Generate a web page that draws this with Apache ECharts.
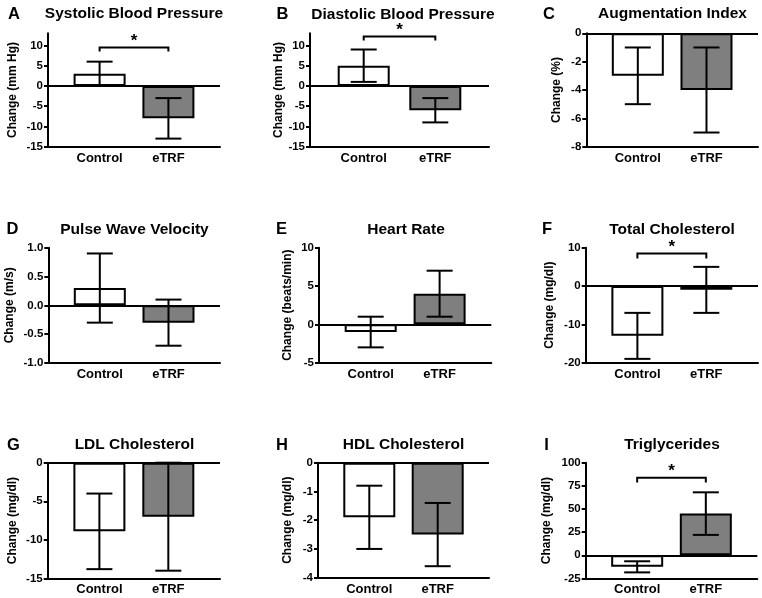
<!DOCTYPE html>
<html>
<head>
<meta charset="utf-8">
<script src="https://cdn.jsdelivr.net/npm/echarts@6/dist/echarts.min.js"></script>
<style>
  html, body { margin: 0; padding: 0; background: #fff; }
  #chart { width: 762px; height: 598px; }
</style>
</head>
<body>
<div id="chart"></div>
<script>
// 分组
const categories = ['Control', 'eTRF']
const panelTitles = ['Systolic Blood Pressure', 'Diastolic Blood Pressure', 'Augmentation Index',
  'Pulse Wave Velocity', 'Heart Rate', 'Total Cholesterol',
  'LDL Cholesterol', 'HDL Cholesterol', 'Triglycerides']
const panelLetters = ['A', 'B', 'C', 'D', 'E', 'F', 'G', 'H', 'I']
const yNames = ['Change (mm Hg)', 'Change (mm Hg)', 'Change (%)',
  'Change (m/s)', 'Change (beats/min)', 'Change (mg/dl)',
  'Change (mg/dl)', 'Change (mg/dl)', 'Change (mg/dl)']

// 均值 和 误差 (Control, eTRF)
const sbpMean = [3, -8], sbpErr = [3, 5]
const dbpMean = [5, -6], dbpErr = [4, 3]
const aixMean = [-3, -4], aixErr = [2, 3]
const pwvMean = [0.3, -0.3], pwvErr = [0.6, 0.4]
const hrMean = [-1, 4], hrErr = [2, 3]
const tcMean = [-13, -1], tcErr = [6, 6]
const ldlMean = [-8.9, -7], ldlErr = [4.9, 7]
const hdlMean = [-1.9, -2.5], hdlErr = [1.1, 1.1]
const tgMean = [-12.5, 45], tgErr = [6, 23]

// y轴刻度
const sbpTicks = [-15, -10, -5, 0, 5, 10]
const dbpTicks = [-15, -10, -5, 0, 5, 10]
const aixTicks = [-8, -6, -4, -2, 0]
const pwvTicks = [-1, -0.5, 0, 0.5, 1]
const hrTicks = [-5, 0, 5, 10]
const tcTicks = [-20, -10, 0, 10]
const ldlTicks = [-15, -10, -5, 0]
const hdlTicks = [-4, -3, -2, -1, 0]
const tgTicks = [-25, 0, 25, 50, 75, 100]

// 显著性括号 [横线高度, 两端下垂到]
const sbpSig = [9.5, 8.5]
const dbpSig = [12.2, 11.2]
const tcSig = [8.5, 7.2]
const tgSig = [83.7, 78.6]

const panels = [
  { mean: sbpMean, err: sbpErr, ticks: sbpTicks, max: 13, sig: sbpSig },
  { mean: dbpMean, err: dbpErr, ticks: dbpTicks, max: 13, sig: dbpSig },
  { mean: aixMean, err: aixErr, ticks: aixTicks },
  { mean: pwvMean, err: pwvErr, ticks: pwvTicks, fmt: v => v.toFixed(1) },
  { mean: hrMean, err: hrErr, ticks: hrTicks },
  { mean: tcMean, err: tcErr, ticks: tcTicks, sig: tcSig },
  { mean: ldlMean, err: ldlErr, ticks: ldlTicks },
  { mean: hdlMean, err: hdlErr, ticks: hdlTicks },
  { mean: tgMean, err: tgErr, ticks: tgTicks, sig: tgSig }
]

// 布局
const layout = [
  { left: 48, top: 33.3, width: 172, height: 113.4, gap: 29, tx: 134, ty: 14, lx: 14, ly: 14 },
  { left: 310, top: 33.3, width: 179, height: 113.4, gap: 22, tx: 403, ty: 15, lx: 282.5, ly: 14 },
  { left: 586.3, top: 33.3, width: 171.7, height: 113.4, gap: 24, tx: 672.5, ty: 14, lx: 549, ly: 14 },
  { left: 48.3, top: 247.7, width: 171.7, height: 115.3, gap: 33, tx: 134.5, ty: 229.3, lx: 12.5, ly: 229.3 },
  { left: 319, top: 247.7, width: 172.3, height: 115, gap: 25.5, tx: 406, ty: 229.3, lx: 281.5, ly: 229.3 },
  { left: 585.7, top: 247.7, width: 172.3, height: 115, gap: 30, tx: 672, ty: 229.3, lx: 547, ly: 229.3 },
  { left: 47.7, top: 462.7, width: 172.3, height: 115.7, gap: 29, tx: 134.5, ty: 445, lx: 13.3, ly: 445 },
  { left: 318, top: 462.7, width: 171, height: 115, gap: 24.5, tx: 403.5, ty: 445, lx: 282, ly: 445 },
  { left: 585.7, top: 462.7, width: 171.6, height: 115.7, gap: 33, tx: 672, ty: 445, lx: 546.5, ly: 445 }
]

const FONT = 'Liberation Sans, Arial, Helvetica, sans-serif'
const GREY = '#7f7f7f'
const LW = 2

const chart = echarts.init(document.getElementById('chart'), null, { renderer: 'canvas' })

const grid = [], xAxis = [], yAxis = [], series = [], graphic = []

panels.forEach((p, i) => {
  const l = layout[i]
  grid.push({ left: l.left, top: l.top, width: l.width, height: l.height, outerBoundsMode: 'none' })
  xAxis.push({
    type: 'value', gridIndex: i, min: 0.25, max: 2.75,
    axisLine: { show: true, onZero: false, lineStyle: { color: '#000', width: LW } },
    axisTick: { show: false },
    splitLine: { show: false },
    axisLabel: {
      customValues: [1, 2],
      formatter: v => categories[v - 1],
      color: '#000', fontFamily: FONT, fontWeight: 'bold', fontSize: 13, margin: 5
    }
  })
  yAxis.push({
    type: 'value', gridIndex: i,
    min: p.ticks[0], max: p.max !== undefined ? p.max : p.ticks[p.ticks.length - 1],
    name: yNames[i], nameLocation: 'middle', nameGap: l.gap,
    nameTextStyle: { color: '#000', fontFamily: FONT, fontWeight: 'bold', fontSize: 12 },
    axisLine: { show: true, lineStyle: { color: '#000', width: LW } },
    axisTick: { show: true, customValues: p.ticks, length: 4, lineStyle: { color: '#000', width: LW } },
    splitLine: { show: false },
    axisLabel: {
      customValues: p.ticks,
      formatter: p.fmt || (v => String(v)),
      color: '#000', fontFamily: FONT, fontWeight: 'bold', fontSize: 11.5, margin: 5
    }
  })
  // 柱子
  series.push({
    type: 'bar', xAxisIndex: i, yAxisIndex: i, barWidth: 52,
    data: p.mean.map((m, k) => ({
      value: [k + 1, m],
      itemStyle: { color: k === 0 ? '#fff' : GREY, borderColor: '#000', borderWidth: LW }
    })),
    markLine: {
      silent: true, symbol: 'none', label: { show: false },
      lineStyle: { color: '#000', width: LW, type: 'solid' },
      data: [{ yAxis: 0 }]
    },
    z: 2
  })
  // 误差线
  series.push({
    type: 'custom', xAxisIndex: i, yAxisIndex: i,
    data: p.mean.map((m, k) => [k + 1, m - p.err[k], m + p.err[k]]),
    renderItem: (params, api) => {
      const hi = api.coord([api.value(0), api.value(2)])
      const lo = api.coord([api.value(0), api.value(1)])
      const w = 13
      const st = { stroke: '#000', lineWidth: LW }
      return {
        type: 'group', children: [
          { type: 'line', shape: { x1: hi[0], y1: hi[1], x2: lo[0], y2: lo[1] }, style: st },
          { type: 'line', shape: { x1: hi[0] - w, y1: hi[1], x2: hi[0] + w, y2: hi[1] }, style: st },
          { type: 'line', shape: { x1: lo[0] - w, y1: lo[1], x2: lo[0] + w, y2: lo[1] }, style: st }
        ]
      }
    },
    z: 4
  })
  // 显著性标记
  if (p.sig) {
    series.push({
      type: 'custom', xAxisIndex: i, yAxisIndex: i, clip: false,
      data: [[1, 2, p.sig[0], p.sig[1]]],
      renderItem: (params, api) => {
        const a = api.coord([api.value(0), api.value(2)])
        const b = api.coord([api.value(1), api.value(2)])
        const d = api.coord([api.value(0), api.value(3)])
        return {
          type: 'group', children: [
            {
              type: 'polyline',
              shape: { points: [[a[0], d[1]], [a[0], a[1]], [b[0], b[1]], [b[0], d[1]]] },
              style: { stroke: '#000', lineWidth: LW, fill: null }
            },
            {
              type: 'text',
              style: {
                text: '*', x: (a[0] + b[0]) / 2, y: a[1] - 6,
                textAlign: 'center', textVerticalAlign: 'middle',
                align: 'center', verticalAlign: 'middle',
                font: 'bold 17px ' + FONT, fill: '#000'
              }
            }
          ]
        }
      },
      z: 4
    })
  }
  graphic.push({
    type: 'text', x: l.tx, y: l.ty,
    style: { text: panelTitles[i], textAlign: 'center', textVerticalAlign: 'middle',
      font: 'bold 15.5px ' + FONT, fill: '#000' }
  })
  graphic.push({
    type: 'text', x: l.lx, y: l.ly,
    style: { text: panelLetters[i], textAlign: 'center', textVerticalAlign: 'middle',
      font: 'bold 16.5px ' + FONT, fill: '#000' }
  })
})

chart.setOption({
  animation: false,
  backgroundColor: '#fff',
  grid, xAxis, yAxis, series, graphic
})
</script>
</body>
</html>
